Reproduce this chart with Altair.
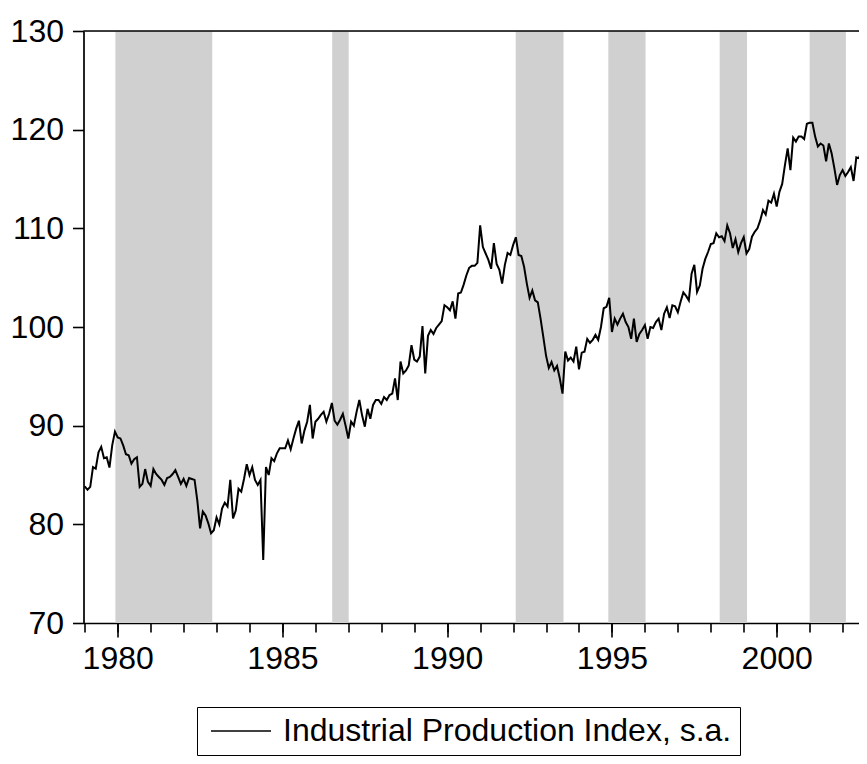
import altair as alt
import pandas as pd

# Monthly Industrial Production Index, s.a., starting 1979:01
start_year = 1979
ipi = [
    83.85, 83.5, 83.8, 85.8, 85.65, 87.3, 87.85, 86.7, 86.8, 85.75, 88.0, 89.4,
    88.8, 88.7, 88.0, 87.1, 87.0, 86.15, 86.6, 86.8, 83.8, 84.1, 85.6, 84.3,
    83.9, 85.6, 85.1, 84.8, 84.5, 84.0, 84.7, 84.8, 85.1, 85.5, 84.8, 84.1,
    84.6, 83.9, 84.7, 84.6, 84.5, 82.4, 79.6, 81.3, 80.9, 80.1, 79.1, 79.4,
    80.7, 80.0, 81.6, 82.2, 81.8, 84.5, 80.6, 81.4, 83.6, 83.3, 84.6, 86.1,
    85.0, 85.8, 84.5, 84.0, 84.5, 76.4, 85.8, 85.0, 86.7, 86.4, 87.2, 87.7,
    87.7, 87.7, 88.5, 87.6, 88.7, 89.7, 90.5, 88.2, 89.5, 90.4, 92.1, 88.7,
    90.4, 90.7, 91.1, 91.4, 90.4, 91.2, 92.3, 90.5, 90.1, 90.6, 91.2, 90.0,
    88.7, 90.4, 90.0, 91.4, 92.6, 91.05, 89.9, 91.7, 90.7, 92.1, 92.6, 92.6,
    92.2, 92.9, 92.6, 93.1, 93.25, 94.8, 92.6, 96.5, 95.3, 95.6, 96.1, 98.15,
    96.7, 96.5, 97.0, 100.1, 95.3, 99.1, 99.7, 99.3, 99.9, 100.25, 100.6, 102.2,
    102.0, 101.7, 102.6, 100.85, 103.4, 103.5, 104.3, 105.25, 106.0, 106.2, 106.2, 106.5,
    110.3, 108.1, 107.45, 106.8, 105.9, 108.5, 106.4, 105.8, 104.4, 106.3, 107.5, 107.3,
    108.3, 109.1, 107.3, 107.2, 106.1, 104.4, 102.95, 103.7, 102.7, 102.5, 100.85, 99.0,
    97.1, 95.85, 96.45, 95.6, 96.05, 94.8, 93.25, 97.5, 96.6, 96.9, 96.5, 98.0,
    95.7, 97.4, 97.5, 98.8, 98.4, 98.7, 99.2, 98.7, 100.0, 101.9, 102.05, 102.95,
    99.5, 100.85, 100.25, 100.85, 101.35, 100.5, 100.0, 98.8, 100.85, 98.5, 99.3, 99.7,
    100.2, 98.8, 100.0, 99.9, 100.5, 100.85, 99.7, 101.35, 102.0, 100.9, 102.2, 102.1,
    101.5, 102.55, 103.5, 103.15, 102.7, 105.4, 106.3, 103.55, 104.2, 105.9, 106.9, 107.6,
    108.4, 108.5, 109.5, 109.1, 109.2, 108.7, 110.3, 109.5, 108.0, 108.9, 107.6, 108.5,
    109.1, 107.45, 107.9, 109.15, 109.65, 110.0, 110.8, 111.85, 111.4, 112.8, 112.6, 113.5,
    112.2, 113.7, 114.5, 116.4, 118.1, 115.9, 119.2, 118.8, 119.3, 119.3, 119.05, 120.6,
    120.7, 120.7, 119.3, 118.3, 118.6, 118.4, 116.8, 118.6, 117.6, 116.1, 114.4, 115.4,
    115.9, 115.3, 115.7, 116.2, 114.8, 117.2, 117.1, 118.1, 116.9,
]

# Shaded periods (decimal years)
shade_start = [1979.93, 1986.51, 1992.08, 1994.89, 1998.27, 2001.0]
shade_end = [1982.87, 1987.01, 1993.53, 1996.02, 1999.10, 2002.10]

year_ticks = list(range(1979, 2003))
label_years = [1980, 1985, 1990, 1995, 2000]
y_ticks = [70, 80, 90, 100, 110, 120, 130]
series_name = "Industrial Production Index, s.a."

FONT = "Liberation Sans"
FS = 32

df = pd.DataFrame({
    "t": [start_year + i / 12 for i in range(len(ipi))],
    "v": ipi,
    "s": [series_name] * len(ipi),
})
shades = pd.DataFrame({"a": shade_start, "b": shade_end})
top = pd.DataFrame({"y": [130]})

xscale = alt.Scale(domain=[1978.962, 2002.498], nice=False, zero=False)
yscale = alt.Scale(domain=[70, 130], nice=False, zero=False)

common = dict(
    labelFont=FONT, labelFontSize=FS, labelColor="black",
    tickColor="black", tickWidth=1.6,
    domainColor="black", domainWidth=1.7,
    grid=False, title=None, labelFlush=False, labelOverlap=False,
)
x_minor = alt.Axis(values=year_ticks, tickSize=9, labels=False, domain=True,
                   orient="bottom", **common)
x_major = alt.Axis(values=label_years, tickSize=14, labelPadding=6, domain=False,
                   orient="bottom", format="d", **common)
yaxis = alt.Axis(values=y_ticks, tickSize=11, labelPadding=9, **common)

rects = alt.Chart(shades).mark_rect(color="#d0d0d0", clip=True).encode(
    x=alt.X("a:Q", scale=xscale, axis=x_minor),
    x2="b:Q",
    y=alt.datum(70, scale=yscale, axis=yaxis),
    y2=alt.datum(130),
)

line = alt.Chart(df).mark_line(strokeWidth=2.0, clip=True).encode(
    x=alt.X("t:Q", scale=xscale, axis=x_major),
    y=alt.Y("v:Q", scale=yscale, axis=yaxis),
    color=alt.Color(
        "s:N",
        scale=alt.Scale(range=["black"]),
        legend=alt.Legend(
            title=None, orient="none", legendX=113.5, legendY=676,
            direction="vertical",
            strokeColor="black", padding=8,
            symbolType="M0,0H10", symbolSize=144, symbolStrokeWidth=1.6,
            symbolOffset=-10,
            labelFont=FONT, labelFontSize=FS, labelColor="black",
            labelOffset=56, labelLimit=1000,
        ),
    ),
)

topline = alt.Chart(top).mark_rule(color="black", strokeWidth=1.7).encode(
    y=alt.Y("y:Q", scale=yscale, axis=yaxis)
)

chart = alt.layer(rects, line, topline).resolve_axis(x="independent").properties(
    width=775.5, height=592,
    autosize=alt.AutoSizeParams(type="none"),
    padding={"left": 75.5, "top": 23, "right": 0, "bottom": 133},
).configure_view(stroke=None).configure(background="white")

chart.save("out.html", embed_options={"renderer": "svg", "actions": False})
